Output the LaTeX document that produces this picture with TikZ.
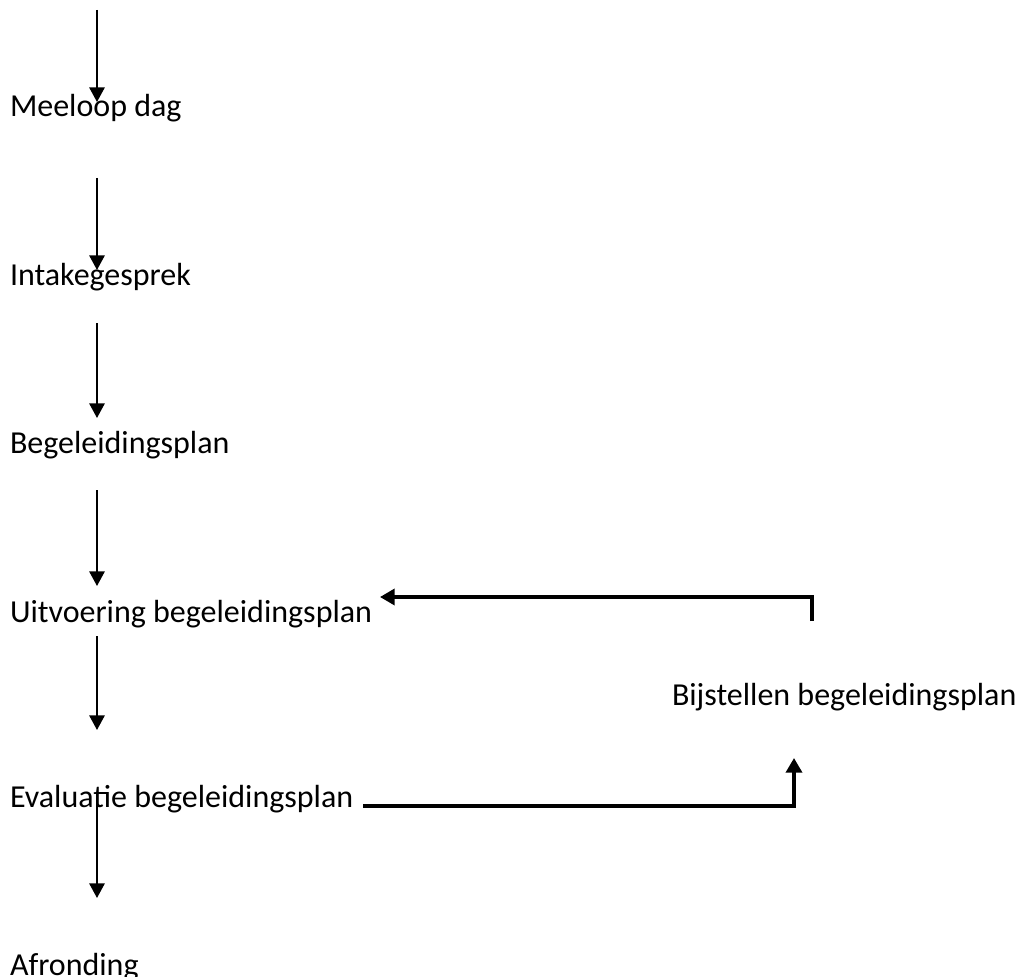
\documentclass[tikz,border=0pt]{standalone}
\usepackage{fontspec}
\setmainfont{Carlito}
\usetikzlibrary{arrows.meta}
\tikzset{
  lbl/.style={anchor=base west, inner sep=0pt, outer sep=0pt, font=\fontsize{24pt}{28pt}\selectfont},
  thinarr/.style={line width=1.5pt, -{Triangle[length=11pt,width=11.5pt]}},
  thickarr/.style={line width=2.6pt, miter limit=10, -{Triangle[length=11pt,width=12pt]}}
}
\begin{document}
\begin{tikzpicture}[x=0.75pt,y=-0.75pt]
\useasboundingbox (0,0) rectangle (1021,977);
% labels
\node[lbl] (meeloop) at (10,117) {Meeloop dag};
\node[lbl] (intake) at (10,285) {Intakegesprek};
\node[lbl] (begel) at (10,453) {Begeleidingsplan};
\node[lbl] (uitv) at (10,622) {Uitvoering begeleidingsplan};
\node[lbl] (eval) at (10,807) {Evaluatie begeleidingsplan};
\node[lbl] (afr) at (10,975) {Afronding};
\node[lbl] (bijst) at (672,705) {Bijstellen begeleidingsplan};
% connector ends
\coordinate (s1) at (97,10);   \coordinate (e1) at (97,102);
\coordinate (s2) at (97,178);  \coordinate (e2) at (97,270);
\coordinate (s3) at (97,323);  \coordinate (e3) at (97,418);
\coordinate (s4) at (97,490);  \coordinate (e4) at (97,586);
\coordinate (s5) at (97,636);  \coordinate (e5) at (97,730);
\coordinate (s6) at (97,800);  \coordinate (e6) at (97,898);
\coordinate (fbA) at (363,806); \coordinate (fbB) at (794,806); \coordinate (fbC) at (794,758);
\coordinate (rtA) at (812,621); \coordinate (rtB) at (812,597); \coordinate (rtC) at (380,597);
% vertical flow
\draw[thinarr] (s1) -- (e1);
\draw[thinarr] (s2) -- (e2);
\draw[thinarr] (s3) -- (e3);
\draw[thinarr] (s4) -- (e4);
\draw[thinarr] (s5) -- (e5);
\draw[thinarr] (s6) -- (e6);
% loop
\draw[thickarr] (fbA) -- (fbB) -- (fbC);
\draw[thickarr] (rtA) -- (rtB) -- (rtC);
\end{tikzpicture}
\end{document}
